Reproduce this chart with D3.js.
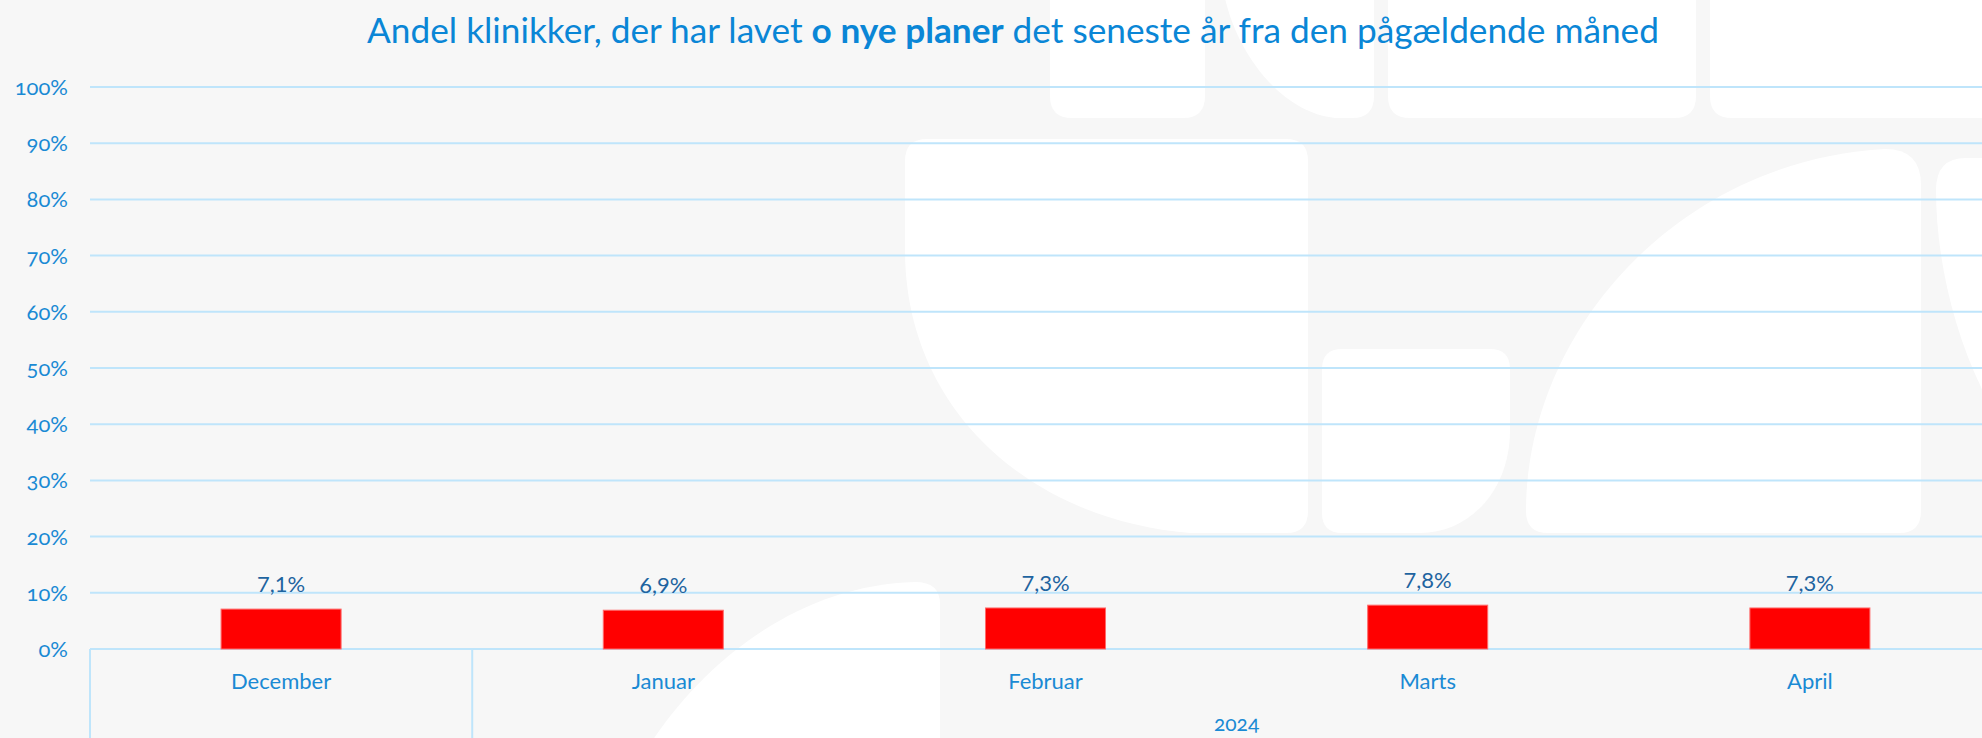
<!DOCTYPE html>
<html>
<head>
<meta charset="utf-8">
<script src="https://cdn.jsdelivr.net/npm/d3@7"></script>
<style>
  body { margin: 0; background: #f7f7f7; overflow: hidden; }
  text { font-family: Lato, "Open Sans", sans-serif; }
</style>
</head>
<body>
<div class="canvas"></div>
<script>
// data
const months = ['December', 'Januar', 'Februar', 'Marts', 'April'];
const years = ['', '2024', '2024', '2024', '2024'];
const values = [7.1, 6.9, 7.3, 7.8, 7.3];
const yTicks = [0, 10, 20, 30, 40, 50, 60, 70, 80, 90, 100];

const width = 1982, height = 738;
const svg = d3.select('.canvas')
    .append('svg')
        .attr('width', width)
        .attr('height', height);

svg.append('rect').attr('width', width).attr('height', height).attr('fill', '#f7f7f7');

// white watermark shapes in the background
const deco = [
    'M1050,-20 L1205,-20 L1205,96 Q1205,118 1183,118 L1072,118 Q1050,118 1050,96 Z',
    'M1222,-20 L1374,-20 L1374,96 Q1374,118 1352,118 L1335,118 C1275,112 1228,40 1222,-20 Z',
    'M1388,-20 L1696,-20 L1696,96 Q1696,118 1674,118 L1410,118 Q1388,118 1388,96 Z',
    'M1710,-20 L2000,-20 L2000,118 L1732,118 Q1710,118 1710,96 Z',
    'M905,161 Q905,139 927,139 L1286,139 Q1308,139 1308,161 L1308,511 Q1308,533 1286,533 L1190,533 C1030,520 905,410 905,250 Z',
    'M1322,369 Q1322,349 1342,349 L1490,349 Q1510,349 1510,369 L1510,430 C1510,490 1470,533 1420,533 L1342,533 Q1322,533 1322,513 Z',
    'M1526,511 C1526,330 1680,160 1885,149 Q1921,149 1921,185 L1921,511 Q1921,533 1899,533 L1548,533 Q1526,533 1526,511 Z',
    'M1990,405 C1955,340 1936,260 1936,190 Q1936,158 1966,158 L1990,158 Z',
    'M940,604 Q940,582 915,582 C800,585 700,660 640,760 L940,760 Z'
];
svg.append('g').selectAll('path')
    .data(deco)
    .enter().append('path')
        .attr('d', d => d)
        .attr('fill', '#ffffff');

const margin = {top: 87, bottom: 89, left: 90, right: -19};
const graphWidth = width - margin.left - margin.right;
const graphHeight = height - margin.top - margin.bottom;

const graph = svg.append('g')
    .attr('transform', `translate(${margin.left},${margin.top})`);

const y = d3.scaleLinear()
    .domain([0, 100])
    .range([graphHeight, 0]);

const x = d3.scaleBand()
    .domain(months)
    .range([0, graphWidth]);

// gridlines
graph.selectAll('line.grid')
    .data(yTicks)
    .enter().append('line')
        .attr('class', 'grid')
        .attr('x1', 0)
        .attr('x2', graphWidth)
        .attr('y1', d => y(d))
        .attr('y2', d => y(d))
        .attr('stroke', '#bfe5fb')
        .attr('stroke-width', 2);

// y tick labels
graph.selectAll('text.ytick')
    .data(yTicks)
    .enter().append('text')
        .attr('class', 'ytick')
        .attr('x', -22)
        .attr('y', d => y(d) + 8)
        .attr('text-anchor', 'end')
        .attr('fill', '#1a8ad4')
        .style('font-size', '22px')
        .style('font-variant-numeric', 'oldstyle-nums')
        .text(d => d + '%');

// bars
const barW = x.bandwidth() * 0.314;
graph.selectAll('rect.bar')
    .data(values)
    .enter().append('rect')
        .attr('class', 'bar')
        .attr('x', (d, i) => x(months[i]) + x.bandwidth() / 2 - barW / 2)
        .attr('y', d => y(d))
        .attr('width', barW)
        .attr('height', d => graphHeight - y(d))
        .attr('fill', '#ff0000')
        .attr('stroke', '#ff6b6b')
        .attr('stroke-width', 1);

// value labels
graph.selectAll('text.val')
    .data(values)
    .enter().append('text')
        .attr('class', 'val')
        .attr('x', (d, i) => x(months[i]) + x.bandwidth() / 2)
        .attr('y', d => y(d) - 17)
        .attr('text-anchor', 'middle')
        .attr('fill', '#1e64a0')
        .style('font-size', '22px')
        .text(d => d.toFixed(1).replace('.', ',') + '%');

// month labels
graph.selectAll('text.month')
    .data(months)
    .enter().append('text')
        .attr('class', 'month')
        .attr('x', d => x(d) + x.bandwidth() / 2)
        .attr('y', graphHeight + 40)
        .attr('text-anchor', 'middle')
        .attr('fill', '#1a8ad4')
        .style('font-size', '22px')
        .text(d => d);

// year groups
const groups = d3.groups(months.map((m, i) => ({m, yr: years[i]})), d => d.yr);
const sep = [];
groups.forEach(([yr, items]) => {
    const x0 = x(items[0].m);
    const x1 = x(items[items.length - 1].m) + x.bandwidth();
    sep.push(x0);
    if (yr) {
        graph.append('text')
            .attr('x', (x0 + x1) / 2)
            .attr('y', graphHeight + 82)
            .attr('text-anchor', 'middle')
            .attr('fill', '#1a8ad4')
            .style('font-size', '21px')
            .style('font-variant-numeric', 'oldstyle-nums')
            .text(yr);
    }
});
graph.selectAll('line.sep')
    .data(sep)
    .enter().append('line')
        .attr('class', 'sep')
        .attr('x1', d => d)
        .attr('x2', d => d)
        .attr('y1', graphHeight)
        .attr('y2', graphHeight + 100)
        .attr('stroke', '#bfe5fb')
        .attr('stroke-width', 2);

// title
const title = svg.append('text')
    .attr('x', 1013)
    .attr('y', 43)
    .attr('text-anchor', 'middle')
    .attr('fill', '#0a86d6')
    .style('font-size', '34px');
title.append('tspan').text('Andel klinikker, der har lavet ');
title.append('tspan').style('font-weight', 'bold').text('o nye planer');
title.append('tspan').text(' det seneste år fra den pågældende måned');
const tw = title.node().getComputedTextLength();
title.style('font-size', (34 * 1292 / tw) + 'px');
</script>
</body>
</html>
